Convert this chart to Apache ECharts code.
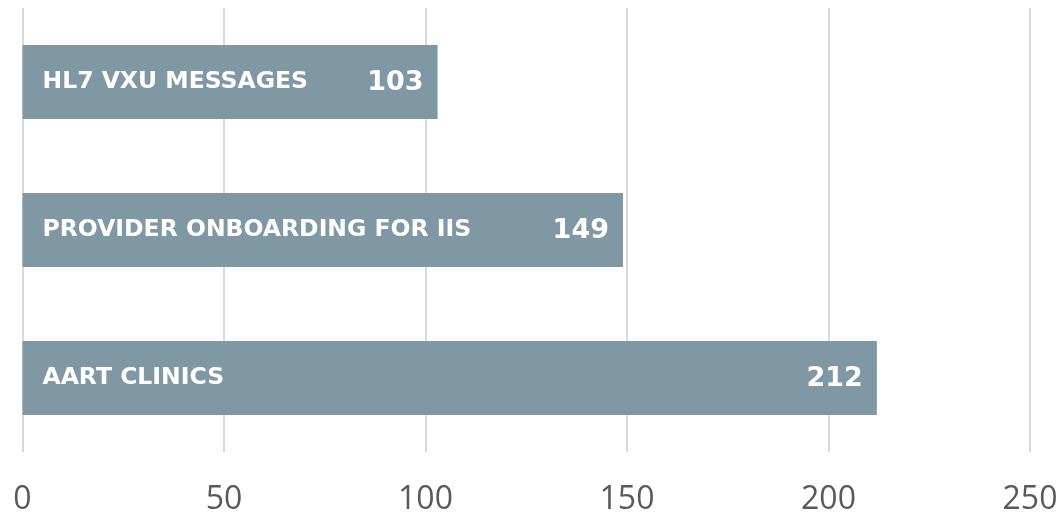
<!DOCTYPE html>
<html>
<head>
<meta charset="utf-8">
<script src="https://cdn.jsdelivr.net/npm/echarts@6/dist/echarts.min.js"></script>
<style>
  html, body { margin: 0; padding: 0; background: #fff; }
  #container { width: 1061px; height: 516px; }
</style>
</head>
<body>
<div id="container"></div>
<script>
var categories = ['HL7 VXU MESSAGES', 'PROVIDER ONBOARDING FOR IIS', 'AART CLINICS'];
var values = [103, 149, 212];

var dom = document.getElementById('container');
var myChart = echarts.init(dom, null, { renderer: 'canvas' });

var option = {
    animation: false,
    textStyle: { fontFamily: 'Open Sans' },
    grid: { left: 22.5, right: 31, top: 8, bottom: 64 },
    xAxis: {
        type: 'value',
        min: 0,
        max: 250,
        interval: 50,
        axisLine: { show: false },
        axisTick: { show: false },
        axisLabel: { color: '#595959', fontSize: 32, margin: 32, fontFamily: 'Open Sans' },
        splitLine: { show: true, lineStyle: { color: '#d9d9d9', width: 2 } }
    },
    yAxis: {
        type: 'category',
        data: categories,
        inverse: true,
        z: 10,
        axisLine: { show: false },
        axisTick: { show: false },
        axisLabel: {
            inside: true,
            margin: 20,
            color: '#fff',
            fontSize: 23.5,
            fontWeight: 'bold',
            fontFamily: 'DejaVu Sans'
        }
    },
    series: [
        {
            type: 'bar',
            data: values,
            barWidth: 74,
            itemStyle: { color: '#8098a3' },
            label: {
                show: true,
                position: 'insideRight',
                distance: 14,
                offset: [0, 1],
                color: '#fff',
                fontSize: 27,
                fontWeight: 'bold',
                fontFamily: 'DejaVu Sans'
            }
        }
    ]
};

myChart.setOption(option);
window.addEventListener('resize', myChart.resize);
</script>
</body>
</html>
